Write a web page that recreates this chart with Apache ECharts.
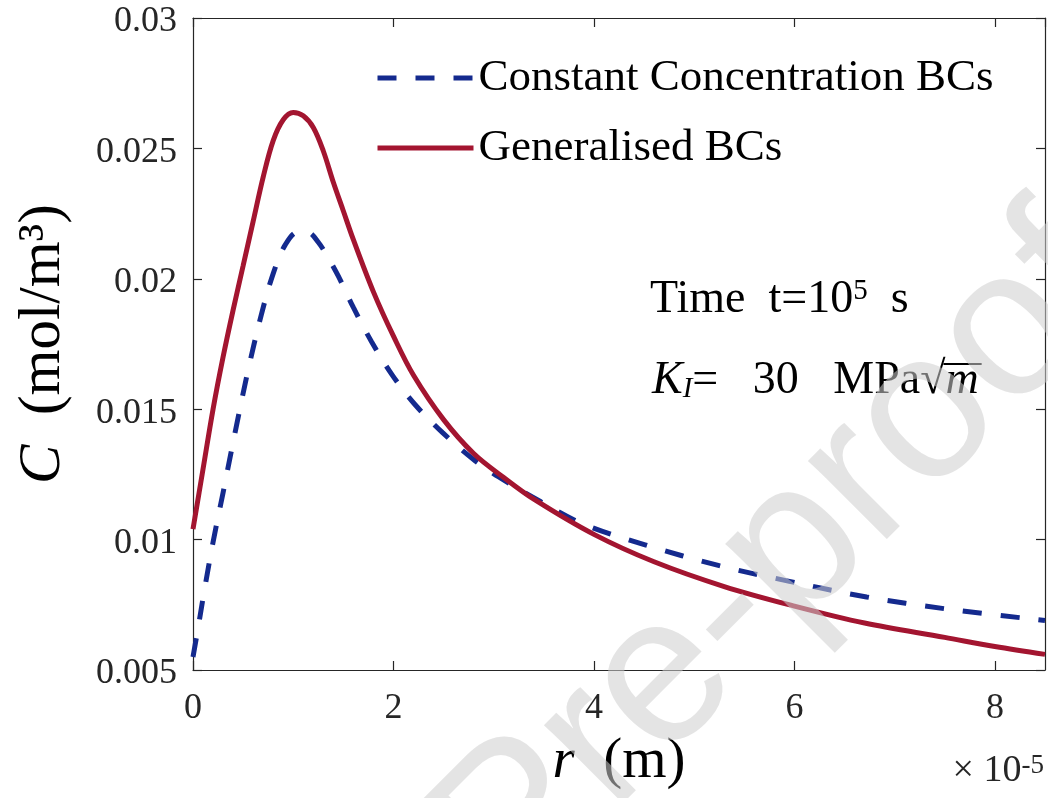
<!DOCTYPE html>
<html>
<head>
<meta charset="utf-8">
<script src="https://cdn.jsdelivr.net/npm/echarts@6/dist/echarts.min.js"></script>
<style>
html,body{margin:0;padding:0;background:#fff;}
#chart{width:1048px;height:798px;}
</style>
</head>
<body>
<div id="chart"></div>
<script>
// r in units of 1e-5 m, C in mol/m^3
const rGeneralised = [0, 0.1, 0.2, 0.3, 0.4, 0.5, 0.6, 0.7, 0.8, 0.9, 1.0, 1.1, 1.2, 1.3, 1.4, 1.5, 1.6, 1.8, 2.0, 2.2, 2.5, 2.8, 3.1, 3.4, 4.0, 4.6, 5.3, 6.0, 6.7, 7.5, 8.0, 8.5];
const cGeneralised = [0.0104, 0.0127, 0.0150, 0.0170, 0.0188, 0.0205, 0.0222, 0.0239, 0.0253, 0.0261, 0.02638, 0.02625, 0.0258, 0.0249, 0.0237, 0.0226, 0.0215, 0.0195, 0.0178, 0.0163, 0.0146, 0.0133, 0.01238, 0.01155, 0.0102, 0.00915, 0.0082, 0.00745, 0.0068, 0.00625, 0.0059, 0.0056];
const rConstant = [0, 0.05, 0.12, 0.2, 0.3, 0.43, 0.55, 0.68, 0.8, 0.92, 1.05, 1.15, 1.25, 1.35, 1.45, 1.6, 1.78, 1.99, 2.21, 2.49, 2.79, 3.05, 3.47, 3.89, 4.51, 5.25, 5.95, 6.72, 7.5, 8.5];
const cConstant = [0.0055, 0.0066, 0.0082, 0.0099, 0.0118, 0.0143, 0.0165, 0.0186, 0.0202, 0.0213, 0.0218, 0.02178, 0.0214, 0.0208, 0.0201, 0.0189, 0.0176, 0.0163, 0.0152, 0.0141, 0.0131, 0.0124, 0.01145, 0.0106, 0.0098, 0.0090, 0.0084, 0.0078, 0.00735, 0.0069];

const seriesNames = ['Constant Concentration BCs', 'Generalised BCs'];
const xTickValues = [0, 2, 4, 6, 8];
const xTickLabels = ['0', '2', '4', '6', '8'];
const yTickValues = [0.005, 0.01, 0.015, 0.02, 0.025, 0.03];
const yTickLabels = ['0.005', '0.01', '0.015', '0.02', '0.025', '0.03'];

const SERIF = 'Liberation Serif';
const AXIS_COLOR = '#262626';

function labelFor(values, labels, wrap) {
  return function (v) {
    const i = values.findIndex(t => Math.abs(t - v) < 1e-9);
    if (i < 0) return '';
    return wrap ? '{v|' + labels[i] + '}' : labels[i];
  };
}
const zip = (xs, ys) => xs.map((x, i) => [x, ys[i]]);

// measure text widths for placing the square-root vinculum
const mctx = document.createElement('canvas').getContext('2d');
function tw(text, size, italic) {
  mctx.font = (italic ? 'italic ' : '') + size + 'px "' + SERIF + '"';
  return mctx.measureText(text).width;
}
const kFont = 46, kSub = 29;
const kLeft = 652, kTop = 358;
const kMid = '=   30   MPa';
const beforeRoot = tw('K', kFont, true) + tw('I', kSub, true) + tw(kMid, kFont, false);
const rootW = tw('√', kFont, false);
const mW = tw('m', kFont, true);
const vincStart = kLeft + beforeRoot + rootW - 2;
const vincEnd = kLeft + beforeRoot + rootW + mW + 3;

const chart = echarts.init(document.getElementById('chart'), null, {renderer: 'canvas'});

const axisCommon = {
  axisLine: {show: true, onZero: false, lineStyle: {color: AXIS_COLOR, width: 1.2}},
  axisTick: {show: true, inside: true, length: 9, lineStyle: {color: AXIS_COLOR, width: 1.2}},
  splitLine: {show: false}
};

const option = {
  animation: false,
  backgroundColor: '#fff',
  grid: {left: 193, right: 3, top: 18, bottom: 128, containLabel: false},
  legend: {
    orient: 'vertical',
    left: 370,
    top: 49,
    itemWidth: 96,
    itemHeight: 20,
    itemGap: 22,
    textStyle: {fontFamily: SERIF, fontSize: 45, color: '#000', lineHeight: 48},
    itemStyle: {opacity: 0},
    lineStyle: {width: 5, opacity: 1},
    data: seriesNames
  },
  xAxis: [
    Object.assign({}, axisCommon, {
      type: 'value', min: 0, max: 8.5, interval: 2, position: 'bottom',
      axisLabel: {show: true, margin: 21, fontFamily: SERIF, fontSize: 36, color: AXIS_COLOR,
        showMaxLabel: false, formatter: labelFor(xTickValues, xTickLabels, false)},
      name: '{i|r}  (m)', nameLocation: 'middle', nameGap: 64,
      nameTextStyle: {fontFamily: SERIF, fontSize: 57, color: '#000',
        rich: {i: {fontFamily: SERIF, fontSize: 57, fontStyle: 'italic', color: '#000'}}}
    }),
    Object.assign({}, axisCommon, {
      type: 'value', min: 0, max: 8.5, interval: 2, position: 'top',
      axisLabel: {show: false}
    })
  ],
  yAxis: [
    Object.assign({}, axisCommon, {
      type: 'value', min: 0.005, max: 0.03, interval: 0.005, position: 'left',
      axisLabel: {show: true, margin: 16, fontFamily: SERIF, fontSize: 36, color: AXIS_COLOR,
        formatter: labelFor(yTickValues, yTickLabels, true),
        rich: {v: {fontFamily: SERIF, fontSize: 36, color: AXIS_COLOR, padding: [8, 0, 0, 0]}}},
      name: '{i|C}  (mol/m³)', nameLocation: 'middle', nameGap: 120, nameRotate: 90,
      nameTextStyle: {fontFamily: SERIF, fontSize: 59, color: '#000',
        rich: {i: {fontFamily: SERIF, fontSize: 59, fontStyle: 'italic', color: '#000'}}}
    }),
    Object.assign({}, axisCommon, {
      type: 'value', min: 0.005, max: 0.03, interval: 0.005, position: 'right',
      axisLabel: {show: false}
    })
  ],
  series: [
    {
      name: seriesNames[0], type: 'line', xAxisIndex: 0, yAxisIndex: 0,
      data: zip(rConstant, cConstant), smooth: 0.35, symbol: 'none', showSymbol: false,
      lineStyle: {color: '#142A8E', width: 5, type: [19, 19], cap: 'butt'},
      itemStyle: {color: '#142A8E'}, z: 3
    },
    {
      name: seriesNames[1], type: 'line', xAxisIndex: 0, yAxisIndex: 0,
      data: zip(rGeneralised, cGeneralised), smooth: 0.35, symbol: 'none', showSymbol: false,
      lineStyle: {color: '#A31530', width: 5, type: 'solid'},
      itemStyle: {color: '#A31530'}, z: 4
    }
  ],
  graphic: [
    {
      type: 'text', left: 650, top: 277, z: 10,
      style: {
        text: 'Time  t=10{sup|5}  s',
        fontFamily: SERIF, fontSize: kFont, fill: '#000',
        rich: {sup: {fontFamily: SERIF, fontSize: 29, verticalAlign: 'top', fill: '#000'}}
      }
    },
    {
      type: 'text', left: kLeft, top: kTop, z: 10,
      style: {
        text: '{i|K}{sub|I}' + kMid + '√{i|m}',
        fontFamily: SERIF, fontSize: kFont, fill: '#000',
        rich: {
          i: {fontFamily: SERIF, fontSize: kFont, fontStyle: 'italic', fill: '#000'},
          sub: {fontFamily: SERIF, fontSize: kSub, fontStyle: 'italic', verticalAlign: 'bottom', fill: '#000'}
        }
      }
    },
    {
      type: 'line', z: 10,
      shape: {x1: vincStart, y1: kTop + 6, x2: vincEnd, y2: kTop + 6},
      style: {stroke: '#000', lineWidth: 2}
    },
    {
      type: 'text', right: 4, top: 752, z: 10,
      style: {
        text: '× 10{sup|-5}',
        fontFamily: SERIF, fontSize: 38, fill: '#262626',
        rich: {sup: {fontFamily: SERIF, fontSize: 27, verticalAlign: 'top', fill: '#262626'}}
      }
    },
    {
      type: 'text', x: 782, y: 562, rotation: Math.PI / 4, z: 100, silent: true,
      style: {
        text: 'Pre-proof', fontFamily: 'Liberation Sans', fontSize: 210,
        fill: 'rgba(205,205,205,0.55)', align: 'center', verticalAlign: 'middle'
      }
    }
  ]
};
chart.setOption(option);
</script>
</body>
</html>
